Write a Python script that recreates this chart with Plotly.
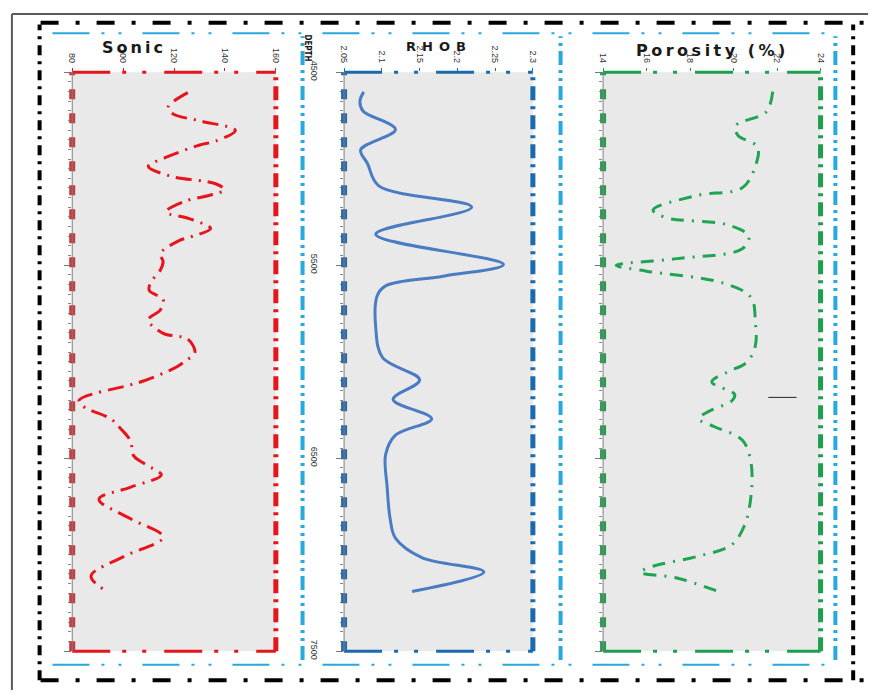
import plotly.graph_objects as go

# ---- well-log data -------------------------------------------------------
sonic_depth = [4606, 4681, 4716, 4752, 4802, 4857, 4877, 4943, 4988, 5038, 5078, 5109,
               5134, 5169, 5224, 5260, 5310, 5350, 5375, 5441, 5481, 5526, 5592, 5632,
               5677, 5732, 5783, 5853, 5883, 5954, 5994, 6029, 6100, 6120, 6200, 6235,
               6296, 6346, 6411, 6487, 6532, 6587, 6650, 6713, 6814, 6909, 7010, 7111, 7191]
sonic_val = [125.4, 117.7, 119.6, 130.1, 144.1, 136.3, 130.1, 116.5, 109.9, 118.4, 136.3, 139.8,
             135.1, 124.3, 116.9, 126.2, 134.4, 127.4, 121.6, 114.6, 115.7, 114.6, 110.7, 110.3,
             115.7, 114.6, 109.9, 115.7, 125.4, 128.2, 124.7, 120.8, 108.0, 102.9, 82.7, 84.7,
             95.1, 99.0, 102.9, 104.1, 108.7, 115.0, 103.0, 90.5, 102.9, 115.7, 100.2, 87.4, 93.6]

rhob_depth = [4602, 4651, 4701, 4797, 4902, 4973, 5089, 5199, 5340, 5496, 5556, 5607,
              5657, 5828, 5979, 6095, 6195, 6296, 6381, 6482, 6648, 6814, 6914, 7015, 7090, 7191]
rhob_val = [2.076, 2.071, 2.075, 2.118, 2.072, 2.081, 2.096, 2.219, 2.092, 2.261, 2.183, 2.105,
            2.094, 2.092, 2.101, 2.150, 2.115, 2.166, 2.118, 2.105, 2.107, 2.111, 2.118, 2.153,
            2.235, 2.140]

poro_depth = [4601, 4706, 4777, 4827, 4887, 4988, 5099, 5139, 5214, 5254, 5290, 5350, 5415,
              5466, 5501, 5531, 5592, 5667, 5793, 5918, 6004, 6054, 6105, 6170, 6205, 6255,
              6296, 6336, 6406, 6522, 6698, 6849, 6950, 7010, 7060, 7091, 7121, 7191]
poro_val = [21.8, 21.5, 20.1, 20.2, 21.1, 21.0, 20.4, 18.3, 16.3, 16.9, 19.7, 20.7, 20.4,
            17.4, 14.6, 16.0, 19.5, 20.8, 21.0, 21.0, 20.6, 19.7, 19.0, 20.05, 19.9, 18.9,
            18.4, 19.1, 20.4, 20.8, 20.8, 20.5, 19.9, 18.3, 16.3, 15.7, 17.4, 19.3]

# short marker line in the porosity track
marker_poro = [21.6, 22.9]
marker_depth = 6185

depth_range = [7500, 4500]
depth_ticks = [4500, 5500, 6500, 7500]
sonic_ticks = [80, 100, 120, 140, 160]
rhob_ticks = [2.05, 2.1, 2.15, 2.2, 2.25, 2.3]
rhob_ticklabels = ["2.05", "2.1", "2.15", "2.2", "2.25", "2.3"]
poro_ticks = [14, 16, 18, 20, 22, 24]

# ---- page geometry (pixels) ----------------------------------------------
W, H = 873, 699


def px(x):
    return x / W


def py(y):
    return 1 - y / H


y_dom = [py(659), py(63)]
tracks = [
    dict(xa="xaxis", ya="yaxis", x="x", y="y", dom=[px(68), px(274)], rng=[80, 160],
         ticks=sonic_ticks, labels=[str(t) for t in sonic_ticks],
         frame="#e3151d", left="#c73a40"),
    dict(xa="xaxis2", ya="yaxis2", x="x2", y="y2", dom=[px(343), px(534)], rng=[2.05, 2.3],
         ticks=rhob_ticks, labels=rhob_ticklabels,
         frame="#1b6aae", left="#2a6aa8"),
    dict(xa="xaxis3", ya="yaxis3", x="x3", y="y3", dom=[px(605), px(825)], rng=[14, 24],
         ticks=poro_ticks, labels=[str(t) for t in poro_ticks],
         frame="#1e9f4f", left="#2a9a55"),
]

fig = go.Figure()

fig.add_trace(go.Scatter(x=sonic_val, y=sonic_depth, mode="lines", xaxis="x", yaxis="y",
                         line=dict(color="#e8141c", width=3, shape="spline",
                                   dash="16px,7px,2px,7px"),
                         showlegend=False))
fig.add_trace(go.Scatter(x=rhob_val, y=rhob_depth, mode="lines", xaxis="x2", yaxis="y2",
                         line=dict(color="#4a7cc4", width=3, shape="spline"),
                         showlegend=False))
fig.add_trace(go.Scatter(x=poro_val, y=poro_depth, mode="lines", xaxis="x3", yaxis="y3",
                         line=dict(color="#1fa552", width=3, shape="spline",
                                   dash="13px,8px,2px,8px"),
                         showlegend=False))

tick_font = dict(family="Liberation Sans Narrow, Arial Narrow, Liberation Sans, sans-serif",
                 size=9, color="#333333")

layout = dict(
    width=W, height=H, margin=dict(l=0, r=0, t=0, b=0), autosize=False,
    paper_bgcolor="white", plot_bgcolor="#e9e9e9", showlegend=False,
)

shapes = []
for i, t in enumerate(tracks):
    layout[t["xa"]] = dict(
        domain=t["dom"], anchor=t["y"], side="top", range=t["rng"],
        tickvals=t["ticks"], ticktext=t["labels"], tickangle=90,
        ticks="outside", ticklen=3, tickcolor=t["frame"], tickfont=tick_font,
        ticklabelstandoff=2,
        showgrid=False, zeroline=False, showline=False,
    )
    ya = dict(
        domain=y_dom, anchor=t["x"], range=depth_range,
        tickvals=depth_ticks, ticks="outside", ticklen=7, tickcolor="#777777",
        minor=dict(dtick=50, ticks="outside", ticklen=3, tickcolor="#888888"),
        showticklabels=False, showgrid=False, zeroline=False, showline=False,
    )
    if i > 0:
        ya["matches"] = "y"
    if i == 1:
        # depth labels live in the gap left of the RHOB track
        ya.update(showticklabels=True, tickangle=90, tickfont=tick_font,
                  ticklabelstandoff=14)
    layout[t["ya"]] = ya

    x0, x1 = t["dom"]
    y0, y1 = y_dom
    c = t["frame"]
    # frame: top / bottom long dash + double dot, right heavy dash-dot, left dashed
    shapes += [
        dict(type="line", xref="paper", yref="paper", x0=x0, x1=x1, y0=y1, y1=y1,
             line=dict(color=c, width=3, dash="38px,12px,4px,16px,4px,18px"), layer="above"),
        dict(type="line", xref="paper", yref="paper", x0=x0, x1=x1, y0=y0, y1=y0,
             line=dict(color=c, width=3, dash="38px,12px,4px,16px,4px,18px"), layer="above"),
        dict(type="line", xref="paper", yref="paper", x0=x1, x1=x1, y0=y0, y1=y1,
             line=dict(color=c, width=5, dash="14px,6px,3px,6px"), layer="above"),
        dict(type="line", xref="paper", yref="paper", x0=x0, x1=x0, y0=y0, y1=y1,
             line=dict(color=t["left"], width=6, dash="10px,14px"), layer="above"),
        dict(type="line", xref="paper", yref="paper", x0=x0, x1=x0, y0=y0, y1=y1,
             line=dict(color="#808080", width=1), layer="above"),
    ]

# marker line inside the porosity track
shapes.append(dict(type="line", xref="x3", yref="y3", x0=marker_poro[0], x1=marker_poro[1],
                   y0=marker_depth, y1=marker_depth, line=dict(color="#222222", width=1)))

# light-blue panel separators
cyan = "#27a9df"
cyan_h = "37px,12px,3px,14px,3px,21px"
cyan_v = "14px,5px,3px,5px,3px,5px"
shapes += [
    dict(type="line", xref="paper", yref="paper", x0=px(48), x1=px(840), y0=py(23), y1=py(23),
         line=dict(color=cyan, width=2, dash=cyan_h)),
    dict(type="line", xref="paper", yref="paper", x0=px(48), x1=px(840), y0=py(673), y1=py(673),
         line=dict(color=cyan, width=2, dash=cyan_h)),
]
for xv in (301, 562, 840):
    shapes.append(dict(type="line", xref="paper", yref="paper", x0=px(xv), x1=px(xv),
                       y0=py(668), y1=py(26), line=dict(color=cyan, width=4, dash=cyan_v)))

# outer black dash-dot border
shapes += [
    dict(type="line", xref="paper", yref="paper", x0=px(36), x1=px(870), y0=py(12), y1=py(12),
         line=dict(color="black", width=4, dash="18px,17px,4px,17px")),
    dict(type="line", xref="paper", yref="paper", x0=px(36), x1=px(870), y0=py(689), y1=py(689),
         line=dict(color="black", width=4, dash="18px,17px,4px,17px")),
    dict(type="line", xref="paper", yref="paper", x0=px(35), x1=px(35), y0=py(689), y1=py(14),
         line=dict(color="black", width=4, dash="10px,6px,3px,6px")),
    dict(type="line", xref="paper", yref="paper", x0=px(858), x1=px(858), y0=py(689), y1=py(14),
         line=dict(color="black", width=4, dash="10px,6px,3px,6px")),
]

# thin grey outline along the top and left page edges
shapes += [
    dict(type="line", xref="paper", yref="paper", x0=px(7), x1=1, y0=py(3), y1=py(3),
         line=dict(color="#5a5a5a", width=2)),
    dict(type="line", xref="paper", yref="paper", x0=px(7), x1=px(7), y0=0, y1=py(3),
         line=dict(color="#5a5a5a", width=2)),
]
layout["shapes"] = shapes

# wide, letter-spaced track titles
title_font = dict(family="DejaVu Sans, Verdana, sans-serif", size=16, color="#1a1a1a")
centre = dict(xref="paper", yref="paper", xanchor="center", yanchor="middle", showarrow=False)
layout["annotations"] = [
    dict(text="<b><span style='letter-spacing:3px'>Sonic</span></b>",
         x=px(131), y=py(38), font=title_font, **centre),
    dict(text="<b><span style='letter-spacing:6px'>RHOB</span></b>", x=px(439), y=py(37),
         font=dict(family="DejaVu Sans, sans-serif", size=13, color="#1a1a1a"), **centre),
    dict(text="<b><span style='letter-spacing:3.5px'>Porosity (%)</span></b>",
         x=px(716), y=py(41), font=title_font, **centre),
    dict(text="<b>DEPTH</b>", x=px(306), y=py(38), textangle=90,
         font=dict(family="DejaVu Sans Condensed, DejaVu Sans, sans-serif", size=8,
                   color="#111111"), **centre),
]

fig.update_layout(**layout)

# pin the graph to the top-left corner of the page
pin_js = (
    "document.documentElement.style.margin='0';"
    "document.body.style.margin='0';"
    "document.body.style.overflow='hidden';"
    "var gd=document.getElementById('{plot_id}');"
    "gd.style.position='fixed';gd.style.left='0px';gd.style.top='0px';"
)
fig.write_html("out.html", post_script=pin_js)
